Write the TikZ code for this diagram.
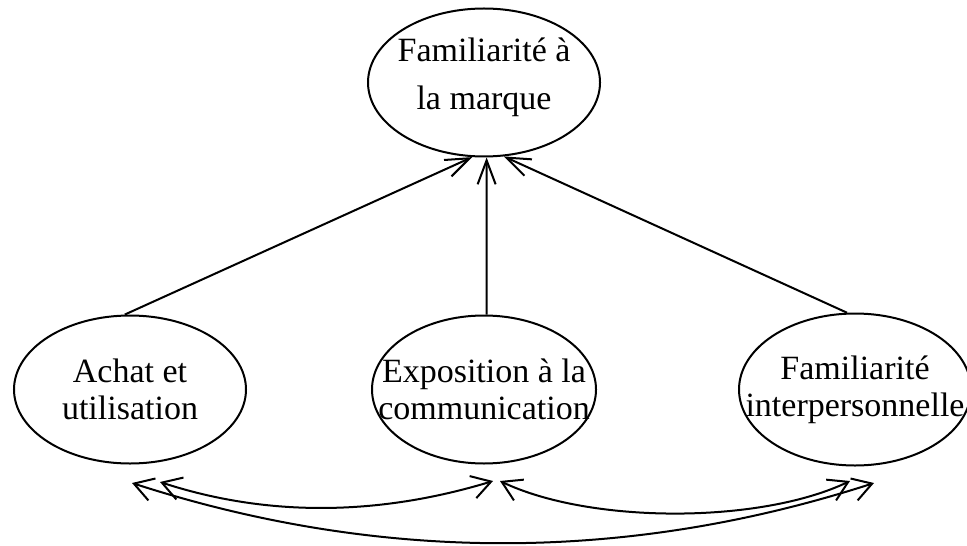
\documentclass[tikz,border=0pt]{standalone}
\usepackage{fontspec}
\setmainfont{Liberation Serif}
\usepackage{tikz}
\usetikzlibrary{positioning, arrows.meta, shapes.geometric}

\begin{document}
\begin{tikzpicture}[
    x=0.5pt, y=-0.5pt, line width=1pt,
    bubble/.style={ellipse, draw=black, minimum width=116pt, minimum height=74pt, inner sep=0pt},
    words/.style={align=center, inner sep=0pt, font=\fontsize{17}{18.5}\selectfont},
    link/.style={-{Straight Barb[length=12pt, width=9pt]}},
    both/.style={{Straight Barb[length=9.5pt, width=11.5pt]}-{Straight Barb[length=9.5pt, width=11.5pt]}}
]
\useasboundingbox (0,0) rectangle (967,545);

\node[bubble](marque) at (484,82.5){};
\node[bubble, minimum width=112pt](expo)[below = 78.5pt of marque]{};
\node[bubble](achat)[left = 62pt of expo]{};
\node[bubble, minimum height=76pt](interp)[right = 70.5pt of expo]{};

\node[words, font=\fontsize{17}{24}\selectfont](marque-t) at ([yshift=2.5pt]marque.center){Familiarité à\\la marque};
\node[words](achat-t) at (achat){Achat et\\utilisation};
\node[words](expo-t) at (expo){Exposition à la\\communication};
\node[words](interp-t) at (interp){Familiarité\\interpersonnelle};

\draw[link] (achat.94) -- (marque.261);
\draw[link] (expo.88) -- (marque.272);
\draw[link] (interp.96) -- (marque.285);

% free ends of the double arrows
\coordinate (achat-a) at (132,483);
\coordinate (achat-b) at (160,482);
\coordinate (expo-a) at (493,481);
\coordinate (expo-b) at (500,481);
\coordinate (interp-a) at (850,481);
\coordinate (interp-b) at (874,483);

\draw[both] (achat-b) .. controls (267,517) and (378,516) .. (expo-a);
\draw[both] (expo-b) .. controls (590,524) and (760,524) .. (interp-a);
\draw[both] (achat-a) .. controls (379,563) and (627,563) .. (interp-b);
\end{tikzpicture}
\end{document}
